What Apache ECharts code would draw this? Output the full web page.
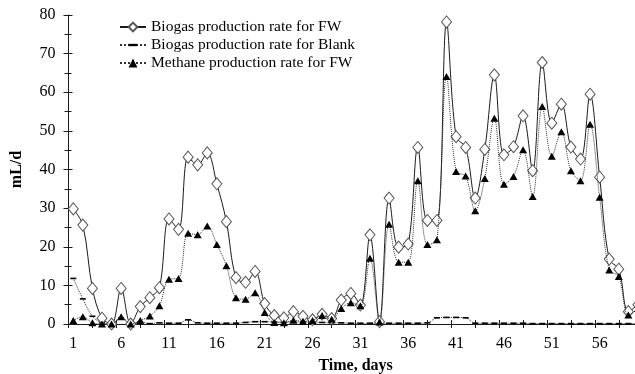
<!DOCTYPE html>
<html>
<head>
<meta charset="utf-8">
<script src="https://cdn.jsdelivr.net/npm/echarts@6/dist/echarts.min.js"></script>
<style>
  html, body { margin: 0; padding: 0; background: #fff; }
  #chart { width: 635px; height: 374px; }
</style>
</head>
<body>
<div id="chart"></div>
<script>
	// days 1..60
	var days = [];
	for (var d = 1; d <= 60; d++) days.push(d);

	// x labels every 5 days
	var dayLabels = [1, 6, 11, 16, 21, 26, 31, 36, 41, 46, 51, 56];

	// Biogas production rate for FW (mL/d)
	var biogasFW = [
		29.8, 25.6, 9.2, 1.5, 0, 9.2, 0, 4.5, 6.8, 9.4,
		27.2, 24.5, 43.2, 41.2, 44.3, 36.3, 26.5, 12.0, 10.8, 13.6,
		5.3, 2.2, 1.6, 3.2, 2.0, 1.1, 2.5, 1.4, 6.2, 7.9,
		4.9, 23.1, 0.6, 32.6, 19.9, 20.7, 45.7, 26.8, 26.8, 78.2,
		48.5, 45.7, 32.6, 45.2, 64.5, 43.8, 45.9, 53.9, 39.7, 67.7,
		52.0, 56.9, 45.8, 42.7, 59.5, 38.0, 16.8, 14.2, 3.2, 5.0
	];
	// Biogas production rate for Blank
	var biogasBlank = [
		11.8, 6.5, 2.0, 0.3, 0, 1.5, 0, 0.5, 0.1, 0.3,
		0.2, 0.2, 1.1, 0.3, 0.2, 0.2, 0.2, 0.2, 0.4, 0.6,
		0.6, 0.5, 0.5, 0.5, 0.5, 0.5, 0.4, 0.3, 0.3, 0.2,
		0.2, 0.2, 0.2, 0.2, 0.2, 0.2, 0.2, 0.3, 1.6, 1.7,
		1.7, 1.6, 0.2, 0.2, 0.2, 0.2, 0.2, 0.2, 0.1, 0.1,
		0.1, 0.1, 0.1, 0.1, 0.1, 0.1, 0.1, 0.1, 0.1, 0.1
	];
	// Methane production rate for FW
	var methaneFW = [
		0.9, 1.9, 0.3, 0, 0, 1.9, 0, 0.9, 2.1, 4.7,
		11.6, 11.8, 23.5, 23.1, 25.4, 20.6, 15.1, 6.8, 6.4, 8.1,
		3.0, 0.4, 0.3, 1.0, 0.7, 0.9, 2.2, 1.2, 4.0, 5.5,
		4.7, 17.0, 0.5, 25.8, 16.0, 16.0, 37.1, 20.6, 21.8, 64.1,
		39.5, 38.3, 29.3, 37.7, 53.3, 36.2, 38.2, 45.1, 33.0, 56.3,
		43.4, 49.8, 39.7, 37.1, 51.7, 32.8, 14.0, 12.3, 2.3, 4.0
	];

	function pairs(vals) {
		var out = [];
		for (var i = 0; i < days.length; i++) out.push([days[i], vals[i]]);
		return out;
	}

	var xMin = 0.5, xMax = 60.5;
	var tickPos = [];    // ticks every 2.5 days from the axis start
	for (var t = xMin; t <= xMax; t += 2.5) tickPos.push(t);

	var serif = 'Liberation Serif';
	var ink = '#1a1a1a';
	// flat dash marker, padded to a square box so the legend keeps it flat
	var dashMark = 'path://M0,0 M0,2.2 L6,2.2 L6,3.8 L0,3.8 Z M6,6';

	var chart = echarts.init(document.getElementById('chart'), null, { renderer: 'canvas' });
	chart.setOption({
		animation: false,
		backgroundColor: '#fff',
		textStyle: { fontFamily: serif, color: '#000' },
		grid: { left: 68.5, top: 15, right: -7.7, bottom: 50, containLabel: false, outerBoundsMode: 'none' },
		legend: {
			orient: 'vertical',
			left: 114,
			top: 14,
			itemWidth: 26,
			itemHeight: 11,
			itemGap: 2,
			textStyle: { fontFamily: serif, fontSize: 15.5, color: '#000', lineHeight: 15.5 },
			data: ['Biogas production rate for FW', 'Biogas production rate for Blank', 'Methane production rate for FW']
		},
		xAxis: [{
			type: 'value',
			min: xMin,
			max: xMax,
			name: 'Time, days',
			nameLocation: 'middle',
			nameGap: 34,
			nameTextStyle: { fontFamily: serif, fontSize: 16, fontWeight: 'bold', color: '#000' },
			splitLine: { show: false },
			axisLine: { lineStyle: { color: ink, width: 1 } },
			axisTick: { customValues: tickPos, length: 4, lineStyle: { color: ink } },
			axisLabel: { customValues: dayLabels, margin: 12, fontFamily: serif, fontSize: 16, color: '#000' }
		}, {
			type: 'value',
			min: xMin,
			max: xMax,
			position: 'bottom',
			splitLine: { show: false },
			axisLine: { show: false },
			axisTick: { customValues: tickPos, inside: true, length: 4, lineStyle: { color: ink } },
			axisLabel: { show: false }
		}],
		yAxis: [{
			type: 'value',
			min: 0,
			max: 80,
			interval: 10,
			name: 'mL/d',
			nameLocation: 'middle',
			nameGap: 44,
			nameTextStyle: { fontFamily: serif, fontSize: 16, fontWeight: 'bold', color: '#000' },
			splitLine: { show: false },
			axisLine: { show: true, lineStyle: { color: ink, width: 1 } },
			axisTick: { show: true, length: 5, lineStyle: { color: ink } },
			minorTick: { show: true, splitNumber: 2, length: 4, lineStyle: { color: ink } },
			axisLabel: { margin: 13, fontFamily: serif, fontSize: 16, color: '#000' }
		}, {
			type: 'value',
			min: 0,
			max: 80,
			interval: 10,
			position: 'left',
			splitLine: { show: false },
			axisLine: { show: false },
			axisTick: { show: true, inside: true, length: 4, lineStyle: { color: ink } },
			minorTick: { show: true, splitNumber: 2, length: 3, lineStyle: { color: ink } },
			axisLabel: { show: false }
		}],
		series: [{
			name: 'Biogas production rate for FW',
			type: 'line',
			smooth: 0.35,
			data: pairs(biogasFW),
			symbol: 'diamond',
			symbolSize: [10, 12],
			lineStyle: { color: ink, width: 1, type: 'solid' },
			itemStyle: { color: '#fff', borderColor: '#555', borderWidth: 1 },
			z: 3
		}, {
			name: 'Biogas production rate for Blank',
			type: 'line',
			smooth: 0.35,
			data: pairs(biogasBlank),
			symbol: dashMark,
			symbolSize: [6, 6],
			lineStyle: { color: '#333', width: 1, type: 'dotted' },
			itemStyle: { color: '#000' },
			z: 2
		}, {
			name: 'Methane production rate for FW',
			type: 'line',
			smooth: 0.35,
			data: pairs(methaneFW),
			symbol: 'triangle',
			symbolSize: [8, 7],
			lineStyle: { color: '#333', width: 1, type: 'dotted' },
			itemStyle: { color: '#000' },
			z: 4
		}]
	});
</script>
</body>
</html>
